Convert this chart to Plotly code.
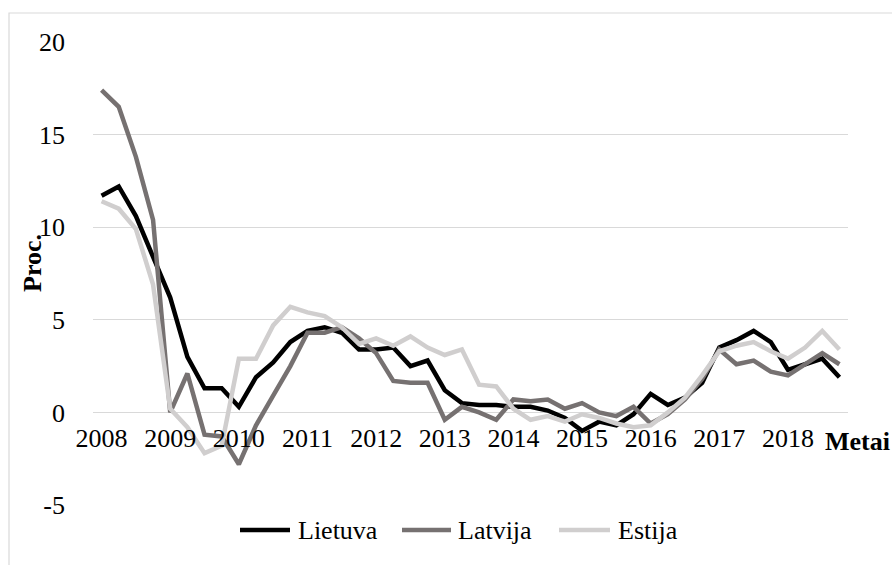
import plotly.graph_objects as go

# Quarterly values, 2008 Q1 - 2018 Q4
years = [str(y) for y in range(2008, 2019)]
quarters = list(range(44))
y_ticks = [-5, 0, 5, 10, 15, 20]
y_tick_text = ["-5", "0", "5", "10", "15", "20"]

lietuva = [11.7, 12.2, 10.6, 8.4, 6.2, 3.0, 1.3, 1.3, 0.3, 1.9, 2.7, 3.8,
           4.4, 4.6, 4.3, 3.4, 3.4, 3.5, 2.5, 2.8, 1.2, 0.5, 0.4, 0.4,
           0.3, 0.3, 0.1, -0.3, -1.0, -0.5, -0.7, -0.1, 1.0, 0.4, 0.8, 1.6,
           3.5, 3.9, 4.4, 3.8, 2.3, 2.6, 2.9, 1.9]
latvija = [17.4, 16.5, 13.8, 10.4, 0.0, 2.1, -1.2, -1.3, -2.8, -0.7, 0.9, 2.5,
           4.3, 4.3, 4.6, 4.0, 3.2, 1.7, 1.6, 1.6, -0.4, 0.3, 0.0, -0.4,
           0.7, 0.6, 0.7, 0.2, 0.5, 0.0, -0.2, 0.3, -0.6, -0.1, 0.7, 1.8,
           3.4, 2.6, 2.8, 2.2, 2.0, 2.6, 3.2, 2.6]
estija = [11.4, 11.0, 9.9, 6.9, 0.2, -0.8, -2.2, -1.8, 2.9, 2.9, 4.7, 5.7,
          5.4, 5.2, 4.6, 3.7, 4.0, 3.6, 4.1, 3.5, 3.1, 3.4, 1.5, 1.4,
          0.2, -0.4, -0.2, -0.5, -0.1, -0.3, -0.6, -0.8, -0.7, 0.0, 0.8, 2.0,
          3.3, 3.6, 3.8, 3.3, 2.9, 3.5, 4.4, 3.4]

series = [("Lietuva", lietuva, "#000000"),
          ("Latvija", latvija, "#767171"),
          ("Estija", estija, "#D0CECE")]

FONT = "Liberation Serif"
LINE_W = 4.5
W, H = 892, 565
M = dict(l=93, r=44, t=42, b=60)


def px_to_paper_x(px):
    return (px - M["l"]) / (W - M["l"] - M["r"])


def px_to_paper_y(py):
    return (H - M["b"] - py) / (H - M["t"] - M["b"])


fig = go.Figure()
for name, vals, color in series:
    fig.add_trace(go.Scatter(
        x=quarters, y=vals, name=name, mode="lines",
        line=dict(color=color, width=LINE_W),
        showlegend=False,
    ))

# Excel-style legend with long keys, placed under the -5 gridline
legend_px = [(240, 290, 296), (402, 451, 456), (559, 610, 616)]  # key start, key end, label
legend_y = px_to_paper_y(530)
shapes = [dict(type="rect", xref="paper", yref="paper",
               x0=px_to_paper_x(9), x1=px_to_paper_x(905),
               y0=px_to_paper_y(580), y1=px_to_paper_y(13),
               line=dict(color="#D9D9D9", width=1.2),
               fillcolor="rgba(0,0,0,0)", layer="below")]
annotations = []
for (name, _, color), (k0, k1, lx) in zip(series, legend_px):
    shapes.append(dict(type="line", xref="paper", yref="paper",
                       x0=px_to_paper_x(k0), x1=px_to_paper_x(k1),
                       y0=legend_y, y1=legend_y,
                       line=dict(color=color, width=LINE_W)))
    annotations.append(dict(text=name, xref="paper", yref="paper",
                            x=px_to_paper_x(lx), y=legend_y,
                            xanchor="left", yanchor="middle",
                            showarrow=False,
                            font=dict(family=FONT, size=26, color="#000000")))

annotations += [
    dict(text="<b>Proc.</b>", xref="paper", yref="paper",
         x=px_to_paper_x(32), y=px_to_paper_y(263), textangle=-90,
         showarrow=False, xanchor="center", yanchor="middle",
         font=dict(family=FONT, size=26, color="#000000")),
    dict(text="<b>Metai</b>", xref="paper", yref="paper",
         x=px_to_paper_x(823), y=px_to_paper_y(441),
         xanchor="left", yanchor="middle", showarrow=False,
         font=dict(family=FONT, size=26, color="#000000")),
]

fig.update_layout(
    width=W, height=H,
    margin=M,
    paper_bgcolor="white", plot_bgcolor="white",
    font=dict(family=FONT, size=26, color="#000000"),
    showlegend=False,
    xaxis=dict(range=[-0.5, 43.5], tickmode="array",
               tickvals=quarters[::4], ticktext=years,
               showgrid=False, zeroline=False, showline=False,
               anchor="free", position=0.2, ticks="",
               ticklabelstandoff=8,
               tickfont=dict(family=FONT, size=26, color="#000000")),
    yaxis=dict(range=[-5, 20], tickmode="array",
               tickvals=y_ticks, ticktext=y_tick_text,
               showgrid=True, gridcolor="#D9D9D9", gridwidth=1.3,
               zeroline=False, showline=False, ticks="",
               ticklabelstandoff=27,
               tickfont=dict(family=FONT, size=26, color="#000000")),
    shapes=shapes,
    annotations=annotations,
)

fig.write_html("out.html")
